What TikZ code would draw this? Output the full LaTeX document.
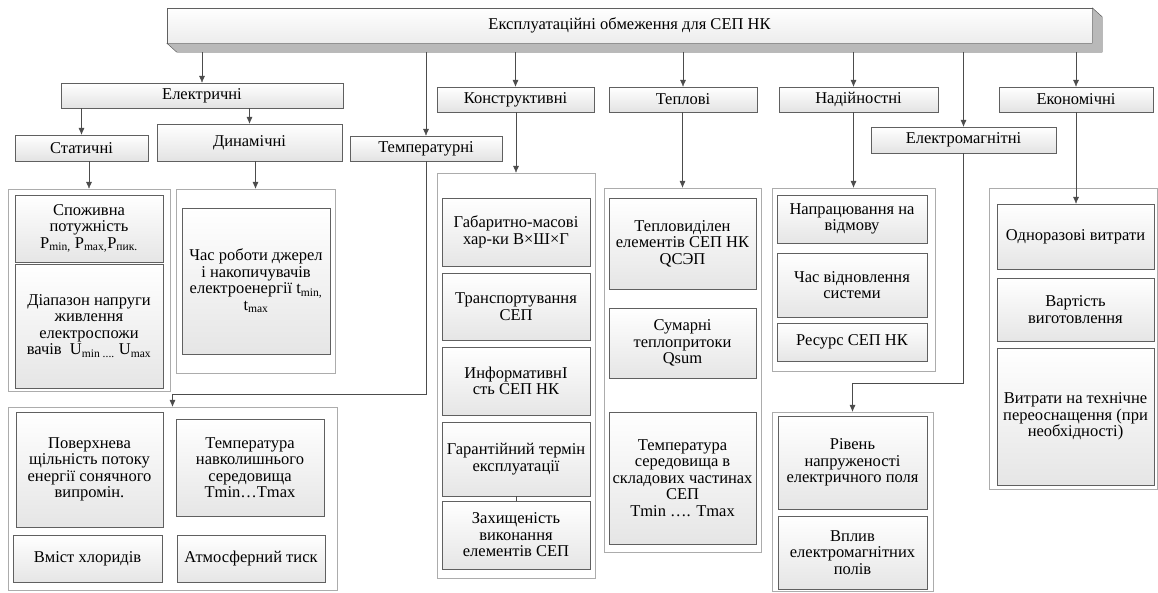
\documentclass[tikz,border=0pt]{standalone}
\usepackage{fontspec}
\setmainfont{Liberation Serif}
\usetikzlibrary{shadows,arrows.meta}

\begin{document}
\begin{tikzpicture}
  [x=1pt,y=-1pt,
   every node/.style={font=\fontsize{16.5}{16.5}\selectfont,align=center,inner sep=1pt},
   shd/.style={drop shadow={shadow xshift=1.2pt,shadow yshift=-1.2pt,opacity=.25}},
   lvl/.style={draw=gray!75!black,top color=white,bottom color=gray!22,minimum height=25pt,shd},
   grp/.style={draw=gray!65,fill=white,shd},
   itm/.style={draw=gray!75!black,top color=white,bottom color=gray!20,shd},
   conn/.style={draw=black!70,-{Latex[length=7pt,width=6pt]}}]
  \useasboundingbox (0,0) rectangle (1158,592);

  % top block
  \node (top) at (629.5,25.5) [draw=gray!75!black,top color=white,bottom color=gray!15,
    minimum width=925pt,minimum height=35pt] {Експлуатаційні обмеження для СЕП НК};
  \filldraw[fill=gray!55,draw=gray!60!black] (top.south west) -- ++(10,9)
    -| ([shift={(10,9)}]top.north east) -- (top.north east) -- (top.south east) -- cycle;
  \coordinate (base) at (0,52);

  % groups
  \node (el)   at (202,95.5)   [lvl,minimum width=282pt] {Електричні};
  \node (stat) at (81.5,148)   [lvl,minimum width=133pt,minimum height=26pt] {Статичні};
  \node (dyn)  at (249.5,142.5)[lvl,minimum width=185pt,minimum height=37pt] {Динамічні};
  \node (temp) at (426,148.5)  [lvl,minimum width=152pt] {Температурні};
  \node (kon)  at (515.5,99.5) [lvl,minimum width=157pt] {Конструктивні};
  \node (tep)  at (683,99.5)   [lvl,minimum width=148pt] {Теплові};
  \node (nad)  at (858.5,99.5) [lvl,minimum width=159pt] {Надійностні};
  \node (emag) at (963.5,140)  [lvl,minimum width=185pt,minimum height=26pt] {Електромагнітні};
  \node (eko)  at (1076,99.5)  [lvl,minimum width=154pt] {Економічні};

  % frames
  \node (gstat) at (89,290)     [grp,minimum width=162pt,minimum height=202pt] {};
  \node (gdyn)  at (255.5,281)  [grp,minimum width=159pt,minimum height=184pt] {};
  \node (gtemp) at (172.5,498.5)[grp,minimum width=329pt,minimum height=183pt] {};
  \node (gkon)  at (516,375.5)  [grp,minimum width=158pt,minimum height=405pt] {};
  \node (gtep)  at (682.5,370)  [grp,minimum width=157pt,minimum height=364pt] {};
  \node (gnad)  at (853.5,279.5)[grp,minimum width=163pt,minimum height=183pt] {};
  \node (gemag) at (852.5,501.5)[grp,minimum width=161pt,minimum height=179pt] {};
  \node (geko)  at (1073,338.5) [grp,minimum width=168pt,minimum height=301pt] {};

  % items
  \node (spoz) at (89,228.5)  [itm,minimum width=148pt,minimum height=67pt]
    {Споживна\\потужність\\P\textsubscript{min,} P\textsubscript{max,}P\textsubscript{пик.}};
  \node (diap) at (89,326)    [itm,minimum width=148pt,minimum height=124pt]
    {Діапазон напруги\\живлення\\електроспожи\\вачів\ \ U\textsubscript{min ....} U\textsubscript{max}};
  \node (chas) at (256,281)   [itm,minimum width=148pt,minimum height=146pt]
    {Час роботи джерел\\і накопичувачів\\електроенергії t\textsubscript{min,}\\t\textsubscript{max}};
  \node (pov)  at (89.5,469.5)[itm,minimum width=147pt,minimum height=115pt]
    {Поверхнева\\щільність потоку\\енергії сонячного\\випромін.};
  \node (tnav) at (250,467.5) [itm,minimum width=148pt,minimum height=97pt]
    {Температура\\навколишнього\\середовища\\Tmin…Tmax};
  \node (hlor) at (87.5,558.5)[itm,minimum width=149pt,minimum height=47pt] {Вміст хлоридів};
  \node (atm)  at (251,558.5) [itm,minimum width=148pt,minimum height=47pt] {Атмосферний тиск};

  \node (gab)   at (516,232)   [itm,minimum width=148pt,minimum height=68pt] {Габаритно-масові\\хар-ки В×Ш×Г};
  \node (trans) at (516,306.5) [itm,minimum width=148pt,minimum height=67pt] {Транспортування\\СЕП};
  \node (inf)   at (516,381)   [itm,minimum width=148pt,minimum height=68pt] {ИнформативнІ\\сть СЕП НК};
  \node (gar)   at (516,459)   [itm,minimum width=148pt,minimum height=74pt] {Гарантійний термін\\експлуатації};
  \node (zah)   at (516,535)   [itm,minimum width=148pt,minimum height=68pt] {Захищеність\\виконання\\елементів СЕП};

  \node (tvid) at (682.5,243.5)[itm,minimum width=147pt,minimum height=91pt] {Тепловиділен\\елементів СЕП НК\\QСЭП};
  \node (sum)  at (682.5,343)  [itm,minimum width=147pt,minimum height=70pt] {Сумарні\\теплопритоки\\Qsum};
  \node (tser) at (682.5,478)  [itm,minimum width=147pt,minimum height=132pt]
    {Температура\\середовища в\\складових частинах\\СЕП\\Tmin …. Tmax};

  \node (napr) at (852,219)    [itm,minimum width=150pt,minimum height=48pt] {Напрацювання на\\відмову};
  \node (vidn) at (852,285)    [itm,minimum width=150pt,minimum height=64pt] {Час відновлення\\системи};
  \node (res)  at (852,342)    [itm,minimum width=150pt,minimum height=38pt] {Ресурс СЕП НК};

  \node (riv)  at (852.5,462.5)[itm,minimum width=149pt,minimum height=93pt] {Рівень\\напруженості\\електричного поля};
  \node (vpl)  at (852.5,552.5)[itm,minimum width=149pt,minimum height=73pt] {Вплив\\електромагнітних\\полів};

  \node (odn)  at (1075.5,236.5)[itm,minimum width=157pt,minimum height=65pt] {Одноразові витрати};
  \node (vart) at (1075.5,309.5)[itm,minimum width=157pt,minimum height=63pt] {Вартість\\виготовлення};
  \node (vytr) at (1075.5,416.5)[itm,minimum width=157pt,minimum height=137pt]
    {Витрати на технічне\\переоснащення (при\\необхідності)};

  \foreach \n in {el,temp,kon,tep,emag,eko}
    \draw[conn] (\n.north |- base) -- (\n);
  \draw[conn] ([xshift=-5pt]nad.north |- base) -- ([xshift=-5pt]nad.north);

  \foreach \from/\to in {el/stat,el/dyn,stat/gstat,dyn/gdyn,kon/gkon,tep/gtep,nad/gnad}
    \draw[conn] (\to.north |- \from.south) -- (\to);
  \draw[conn] (eko.south) -- (eko.south |- odn.north);
  \draw[conn] (temp.south) |- ([yshift=13pt]gtemp.north) -- (gtemp.north);
  \draw[conn] (emag.south) |- ([yshift=29pt]gemag.north) -- (gemag.north);
  \draw[draw=black!70] (gar) -- (zah);
\end{tikzpicture}
\end{document}
